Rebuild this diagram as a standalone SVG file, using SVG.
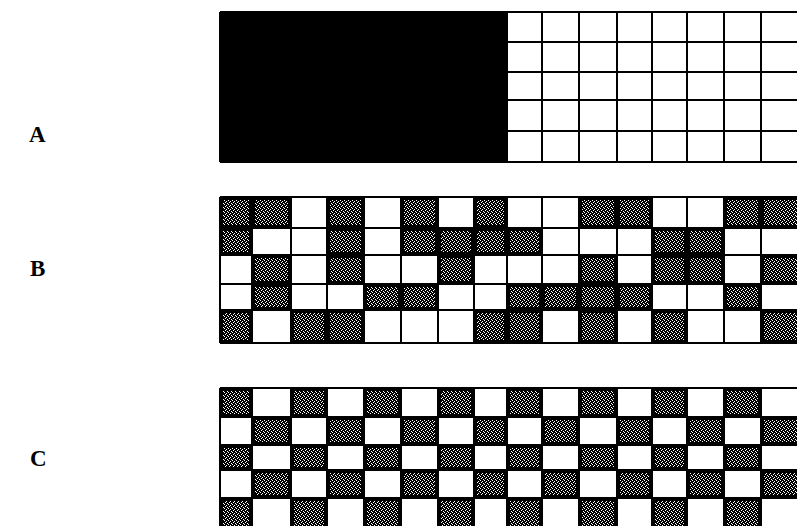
<svg xmlns="http://www.w3.org/2000/svg" width="797" height="526" viewBox="0 0 797 526">
<defs>
<pattern id="ht" width="4" height="4" patternUnits="userSpaceOnUse">
<rect width="4" height="4" fill="#000"/>
<rect x="0" y="0" width="1" height="1" fill="#fff"/>
<rect x="2" y="1" width="1" height="1" fill="#fff"/>
<rect x="1" y="2" width="1" height="1" fill="#fff"/>
<rect x="3" y="3" width="1" height="1" fill="#fff"/>
</pattern>
</defs>
<style>
.lbl{font-family:"Liberation Serif","Times New Roman",serif;font-weight:bold;font-size:23px;fill:#000}
.d{fill:url(#ht);stroke:#000;stroke-width:2}
.grid{fill:none;stroke:#000;stroke-width:2}
</style>
<rect width="797" height="526" fill="#fff"/>
<g id="labels">
<text class="lbl" x="29" y="142">A</text>
<text class="lbl" x="30" y="276">B</text>
<text class="lbl" x="30" y="466">C</text>
</g>
<g id="panelA">
<rect x="220" y="12" width="287" height="150" fill="#000"/>
<path class="grid" d="M220 12H800M220 162H800M507 42H800M507 72H800M507 100H800M507 131H800M220 12V162M507 12V162M542 12V162M579 12V162M617 12V162M652 12V162M687 12V162M724 12V162M761 12V162"/>
</g>
<g id="panelB">
<rect class="d" x="222" y="199" width="28" height="27"/>
<rect class="d" x="254" y="199" width="35" height="27"/>
<rect class="d" x="329" y="199" width="33" height="27"/>
<rect class="d" x="403" y="199" width="33" height="27"/>
<rect class="d" x="476" y="199" width="29" height="27"/>
<rect class="d" x="581" y="199" width="34" height="27"/>
<rect class="d" x="619" y="199" width="31" height="27"/>
<rect class="d" x="726" y="199" width="33" height="27"/>
<rect class="d" x="763" y="199" width="40" height="27"/>

<rect class="d" x="222" y="230" width="28" height="23"/>
<rect class="d" x="329" y="230" width="33" height="23"/>
<rect class="d" x="403" y="230" width="33" height="23"/>
<rect class="d" x="440" y="230" width="32" height="23"/>
<rect class="d" x="476" y="230" width="29" height="23"/>
<rect class="d" x="509" y="230" width="31" height="23"/>
<rect class="d" x="654" y="230" width="31" height="23"/>
<rect class="d" x="689" y="230" width="33" height="23"/>

<rect class="d" x="254" y="257" width="35" height="25"/>
<rect class="d" x="329" y="257" width="33" height="25"/>
<rect class="d" x="440" y="257" width="32" height="25"/>
<rect class="d" x="581" y="257" width="34" height="25"/>
<rect class="d" x="654" y="257" width="31" height="25"/>
<rect class="d" x="689" y="257" width="33" height="25"/>
<rect class="d" x="763" y="257" width="40" height="25"/>

<rect class="d" x="254" y="286" width="35" height="22"/>
<rect class="d" x="366" y="286" width="33" height="22"/>
<rect class="d" x="403" y="286" width="33" height="22"/>
<rect class="d" x="509" y="286" width="31" height="22"/>
<rect class="d" x="544" y="286" width="33" height="22"/>
<rect class="d" x="581" y="286" width="34" height="22"/>
<rect class="d" x="619" y="286" width="31" height="22"/>
<rect class="d" x="726" y="286" width="33" height="22"/>

<rect class="d" x="222" y="312" width="28" height="29"/>
<rect class="d" x="293" y="312" width="32" height="29"/>
<rect class="d" x="329" y="312" width="33" height="29"/>
<rect class="d" x="476" y="312" width="29" height="29"/>
<rect class="d" x="509" y="312" width="31" height="29"/>
<rect class="d" x="581" y="312" width="34" height="29"/>
<rect class="d" x="654" y="312" width="31" height="29"/>
<rect class="d" x="763" y="312" width="40" height="29"/>
<path class="grid" d="M220 197H800M220 228H800M220 255H800M220 284H800M220 310H800M220 343H800M220 197V343M252 197V343M291 197V343M327 197V343M364 197V343M401 197V343M438 197V343M474 197V343M507 197V343M542 197V343M579 197V343M617 197V343M652 197V343M687 197V343M724 197V343M761 197V343"/>
</g>
<g id="panelC">
<g id="c-r1">
<rect class="d" x="222" y="390" width="28" height="25"/>
<rect class="d" x="293" y="390" width="32" height="25"/>
<rect class="d" x="366" y="390" width="33" height="25"/>
<rect class="d" x="440" y="390" width="32" height="25"/>
<rect class="d" x="509" y="390" width="31" height="25"/>
<rect class="d" x="581" y="390" width="34" height="25"/>
<rect class="d" x="654" y="390" width="31" height="25"/>
<rect class="d" x="726" y="390" width="33" height="25"/>
</g>
<g id="c-r2">
<rect class="d" x="254" y="419" width="35" height="24"/>
<rect class="d" x="329" y="419" width="33" height="24"/>
<rect class="d" x="403" y="419" width="33" height="24"/>
<rect class="d" x="476" y="419" width="29" height="24"/>
<rect class="d" x="544" y="419" width="33" height="24"/>
<rect class="d" x="619" y="419" width="31" height="24"/>
<rect class="d" x="689" y="419" width="33" height="24"/>
<rect class="d" x="763" y="419" width="40" height="24"/>
</g>
<g id="c-r3">
<rect class="d" x="222" y="447" width="28" height="21"/>
<rect class="d" x="293" y="447" width="32" height="21"/>
<rect class="d" x="366" y="447" width="33" height="21"/>
<rect class="d" x="440" y="447" width="32" height="21"/>
<rect class="d" x="509" y="447" width="31" height="21"/>
<rect class="d" x="581" y="447" width="34" height="21"/>
<rect class="d" x="654" y="447" width="31" height="21"/>
<rect class="d" x="726" y="447" width="33" height="21"/>
</g>
<g id="c-r4">
<rect class="d" x="254" y="472" width="35" height="24"/>
<rect class="d" x="329" y="472" width="33" height="24"/>
<rect class="d" x="403" y="472" width="33" height="24"/>
<rect class="d" x="476" y="472" width="29" height="24"/>
<rect class="d" x="544" y="472" width="33" height="24"/>
<rect class="d" x="619" y="472" width="31" height="24"/>
<rect class="d" x="689" y="472" width="33" height="24"/>
<rect class="d" x="763" y="472" width="40" height="24"/>
</g>
<g id="c-r5">
<rect class="d" x="222" y="500" width="28" height="30"/>
<rect class="d" x="293" y="500" width="32" height="30"/>
<rect class="d" x="366" y="500" width="33" height="30"/>
<rect class="d" x="440" y="500" width="32" height="30"/>
<rect class="d" x="509" y="500" width="31" height="30"/>
<rect class="d" x="581" y="500" width="34" height="30"/>
<rect class="d" x="654" y="500" width="31" height="30"/>
<rect class="d" x="726" y="500" width="33" height="30"/>
</g>
<path class="grid" d="M220 388H800M220 417H800M220 445H800M220 470H800M220 498H800M220 388V530M252 388V530M291 388V530M327 388V530M364 388V530M401 388V530M438 388V530M474 388V530M507 388V530M542 388V530M579 388V530M617 388V530M652 388V530M687 388V530M724 388V530M761 388V530"/>
</g>
</svg>
